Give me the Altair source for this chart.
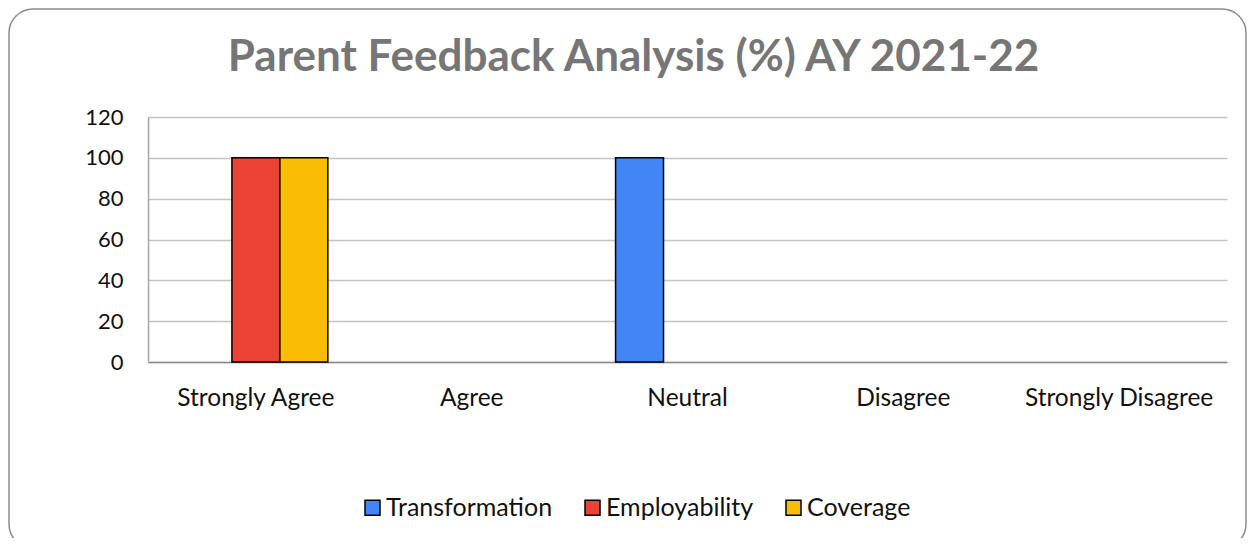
import altair as alt
import pandas as pd

categories = ["Strongly Agree", "Agree", "Neutral", "Disagree", "Strongly Disagree"]
series = ["Transformation", "Employability", "Coverage"]
transformation = [0, 0, 100, 0, 0]
employability = [100, 0, 0, 0, 0]
coverage = [100, 0, 0, 0, 0]
colors = ["#4285F4", "#EA4335", "#FBBC04"]
y_ticks = [0, 20, 40, 60, 80, 100, 120]

rows = []
for name, vals in zip(series, [transformation, employability, coverage]):
    for c, v in zip(categories, vals):
        rows.append({"category": c, "series": name, "value": v})
df = pd.DataFrame(rows)

FONT = "Lato"

bars = alt.Chart(df).transform_filter("datum.value > 0").mark_bar(
    stroke="black", strokeWidth=1.5
).encode(
    x=alt.X("category:N", sort=categories,
            scale=alt.Scale(domain=categories, paddingInner=0, paddingOuter=0),
            axis=alt.Axis(title=None, labelAngle=0, ticks=False, domainColor="#8a8a8a",
                          domainWidth=1.5, labelPadding=24, labelFontSize=24.5,
                          labelFont=FONT, labelColor="#111111", grid=False,
                          labelLimit=400, labelOverlap=False)),
    xOffset=alt.XOffset("series:N", sort=series,
                        scale=alt.Scale(domain=series, paddingInner=0, paddingOuter=0.75)),
    y=alt.Y("value:Q",
            scale=alt.Scale(domain=[0, 120], nice=False),
            axis=alt.Axis(title=None, values=y_ticks, ticks=False, grid=True,
                          gridColor="#c4c4c4", gridWidth=1.5, domainColor="#a6a6a6",
                          domainWidth=1.5, labelPadding=25, labelFontSize=22,
                          labelFont=FONT, labelColor="#111111")),
    color=alt.Color("series:N", sort=series,
                    scale=alt.Scale(domain=series, range=colors),
                    legend=alt.Legend(title=None, orient="none", direction="horizontal",
                                      legendX=212, legendY=378, symbolType="square",
                                      symbolSize=225, symbolStrokeColor="black",
                                      symbolStrokeWidth=1.5, labelFontSize=25,
                                      labelFont=FONT, labelColor="#111111",
                                      labelOffset=1, columnPadding=27, labelLimit=400)),
)

border = alt.Chart(pd.DataFrame({"k": [0]})).mark_rect(
    fill=None, fillOpacity=0, stroke="#8c8c8c", strokeWidth=1.5, cornerRadius=24
).encode(
    x=alt.value(-139), x2=alt.value(1098), y=alt.value(-108), y2=alt.value(431)
)

chart = alt.layer(border, bars).properties(
    width=1079, height=245,
    autosize=alt.AutoSizeParams(type="none"),
    padding={"left": 140, "top": 109, "right": 20, "bottom": 176},
    title=alt.TitleParams("Parent Feedback Analysis (%) AY 2021-22", fontSize=44,
                          font=FONT, fontWeight="bold", color="#767676",
                          anchor="middle", frame="group", dx=-54, offset=-72),
).configure_view(stroke=None)

chart.save("out.html", embed_options={"renderer": "svg", "actions": False})
